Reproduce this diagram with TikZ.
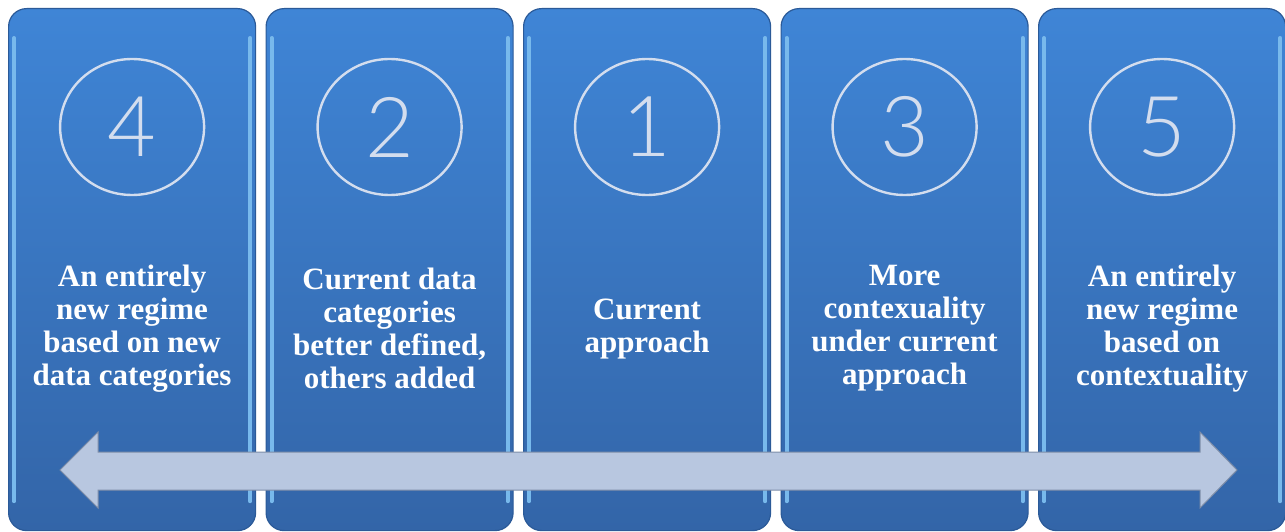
\documentclass[tikz,border=0pt]{standalone}
\usepackage{fontspec}
\setmainfont{Liberation Serif}
\newfontfamily\stepfont{Lato Light}
\usetikzlibrary{calc,shapes.geometric}
\definecolor{panelTop}{HTML}{3F85D6}
\definecolor{panelBot}{HTML}{3365A8}
\definecolor{panelEdge}{HTML}{2B5A98}
\definecolor{rimBlue}{HTML}{86C6F2}
\definecolor{ringCol}{HTML}{D3DDEE}
\definecolor{arrowFill}{HTML}{B8C7E0}
\definecolor{arrowEdge}{HTML}{7D8DA8}
\tikzset{
    panel box/.style={
        rounded corners=18pt,
        top color=panelTop,
        bottom color=panelBot,
        draw=panelEdge,
        line width=1.2pt,
        minimum width=247pt,
        minimum height=522pt,
        inner sep=0pt
    },
    rim line/.style={line width=4pt, rimBlue!80!panelTop, line cap=round},
    ring/.style={ellipse, draw=ringCol, line width=2.4pt,
        minimum width=144pt, minimum height=136pt, inner sep=0pt},
    step label/.style={text=ringCol, font=\stepfont\fontsize{84}{84}\selectfont},
    panel text/.style={text=white, align=center,
        font=\bfseries\fontsize{31}{33}\selectfont},
    block arrow/.style={fill=arrowFill, draw=arrowEdge, line width=1pt, line join=miter}
}
\newcommand{\Panel}[4]{%
\node[panel box,anchor=north west] (p#1) at (#2,8) {};
\draw[rim line] ($(p#1.north west)+(6,30)$) -- ($(p#1.south west)+(6,-30)$);
\draw[rim line] ($(p#1.north east)+(-6,30)$) -- ($(p#1.south east)+(-6,-30)$);
\node[ring] (c#1) at ($(p#1.north)+(0,119)$) {};
\node[step label] (n#1) at (c#1) {#3};
\node[panel text] (t#1) at ($(p#1.center)+(0,59)$) {#4};
}

\begin{document}
\begin{tikzpicture}[x=1pt,y=-1pt]
    \useasboundingbox (0,0) rectangle (1285,532);

    \Panel{1}{8}{4}{An entirely\\new regime\\based on new\\data categories}
    \Panel{2}{265.5}{2}{Current data\\categories\\better defined,\\others added}
    \Panel{3}{523}{1}{Current\\approach}
    \Panel{4}{780.5}{3}{More\\contexuality\\under current\\approach}
    \Panel{5}{1038}{5}{An entirely\\new regime\\based on\\contextuality}

    % double block arrow along the bottom
    \coordinate (L) at (60,470);
    \coordinate (R) at (1237,470);
    \draw[block arrow]
        (L) -- ++(38,-38) -- ++(0,20) -- ($(R)+(-37,-18)$) -- ++(0,-20)
        -- (R) -- ++(-37,38) -- ++(0,-18) -- ($(L)+(38,20)$) -- ++(0,18) -- cycle;
\end{tikzpicture}
\end{document}
